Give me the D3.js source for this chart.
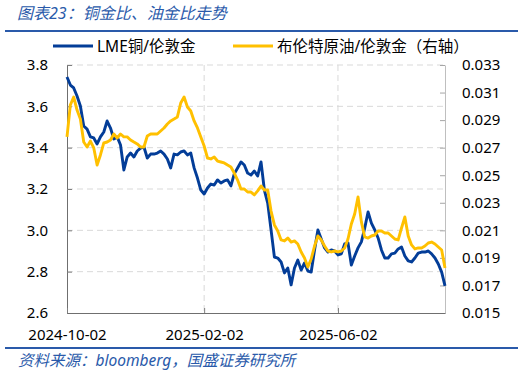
<!DOCTYPE html>
<meta charset="utf-8">
<title>铜金比、油金比走势</title>
<style>
  body { margin: 0; background: #fff; }
  text { font-family: "Noto Sans", "Noto Sans CJK SC", sans-serif; }
</style>
<body>
<script src="https://cdn.jsdelivr.net/npm/d3@7"></script>
<script>

// one sample every 3 calendar days from the start date
var startDate = "2024-10-02";
var stepDays = 3;

// LME copper / LBMA gold (left axis)
var copperGold = [
  3.742, 3.703, 3.689, 3.650, 3.602, 3.505, 3.490, 3.452, 3.447, 3.418,
  3.452, 3.476, 3.529, 3.495, 3.442, 3.452, 3.413, 3.292, 3.355, 3.374,
  3.355, 3.384, 3.398, 3.403, 3.350, 3.369, 3.369, 3.374, 3.384, 3.369,
  3.345, 3.302, 3.369, 3.365, 3.379, 3.384, 3.365, 3.374, 3.302, 3.253,
  3.195, 3.176, 3.205, 3.224, 3.219, 3.244, 3.229, 3.239, 3.244, 3.215,
  3.273, 3.302, 3.331, 3.316, 3.277, 3.268, 3.287, 3.263, 3.331, 3.195,
  3.132, 3.002, 2.871, 2.866, 2.847, 2.794, 2.818, 2.736, 2.818, 2.856,
  2.808, 2.842, 2.803, 2.798, 2.905, 3.002, 2.958, 2.915, 2.895, 2.905,
  2.900, 2.881, 2.886, 2.934, 2.939, 2.832, 2.876, 2.915, 2.944, 3.011,
  3.089, 3.035, 3.002, 2.963, 2.905, 2.866, 2.866, 2.886, 2.890, 2.910,
  2.919, 2.876, 2.852, 2.847, 2.866, 2.890, 2.895, 2.895, 2.900, 2.886,
  2.866, 2.837, 2.798, 2.731
];

// Brent crude / LBMA gold (right axis)
var oilGold = [
  0.02778, 0.03010, 0.03068, 0.02973, 0.02908, 0.02741, 0.02705, 0.02748, 0.02698, 0.02574,
  0.02647, 0.02734, 0.02741, 0.02756, 0.02799, 0.02770, 0.02799, 0.02778, 0.02778, 0.02756,
  0.02741, 0.02727, 0.02705, 0.02705, 0.02785, 0.02799, 0.02799, 0.02799, 0.02821, 0.02843,
  0.02872, 0.02894, 0.02908, 0.02923, 0.03024, 0.03068, 0.02995, 0.02966, 0.02894, 0.02843,
  0.02778, 0.02712, 0.02625, 0.02618, 0.02632, 0.02603, 0.02596, 0.02589, 0.02574, 0.02560,
  0.02516, 0.02465, 0.02400, 0.02400, 0.02378, 0.02378, 0.02357, 0.02386, 0.02422, 0.02393,
  0.02393, 0.02240, 0.02139, 0.02095, 0.02030, 0.02023, 0.02044, 0.02015, 0.02023, 0.02001,
  0.01943, 0.01899, 0.01834, 0.01892, 0.01986, 0.02059, 0.02030, 0.01986, 0.01950, 0.01943,
  0.01950, 0.01943, 0.01950, 0.01972, 0.02037, 0.02146, 0.02219, 0.02342, 0.02161, 0.02052,
  0.02044, 0.02059, 0.02066, 0.02095, 0.02095, 0.02081, 0.02081, 0.02059, 0.02037, 0.02030,
  0.02117, 0.02197, 0.02059, 0.01994, 0.01965, 0.01972, 0.01972, 0.01986, 0.02008, 0.02015,
  0.02001, 0.01979, 0.01957, 0.01827
];

var leftTicks = [2.6, 2.8, 3.0, 3.2, 3.4, 3.6, 3.8];
var rightTicks = [0.015, 0.017, 0.019, 0.021, 0.023, 0.025, 0.027, 0.029, 0.031, 0.033];
var xTickLabels = ["2024-10-02", "2025-02-02", "2025-06-02"];
var seriesNames = ["LME铜/伦敦金", "布伦特原油/伦敦金（右轴）"];

var blue = "#033D98";
var yellow = "#FFC000";
var titleBlue = "#2A5AAA";

var width = 525;
var height = 375;
var plotLeft = 67, plotRight = 445, plotTop = 65, plotBottom = 313;

var parse = d3.utcParse("%Y-%m-%d");
var t0 = parse(startDate);
var dates = copperGold.map(function(d, i) { return d3.utcDay.offset(t0, i * stepDays); });

var x = d3.scaleUtc()
    .domain([t0, dates[dates.length - 1]])
    .range([plotLeft, plotRight]);
var yL = d3.scaleLinear().domain([2.6, 3.8]).range([plotBottom, plotTop]);
var yR = d3.scaleLinear().domain([0.015, 0.033]).range([plotBottom, plotTop]);

var svg = d3.select("body")
      .append("svg")
      .attr("width", width)
      .attr("height", height);

// title and rules
svg.append("text")
  .attr("x", 17)
  .attr("y", 19)
  .style("font-size", "16px")
  .style("font-style", "italic")
  .style("fill", titleBlue)
  .text("图表23：铜金比、油金比走势");

svg.append("line")
  .attr("x1", 5).attr("x2", 518)
  .attr("y1", 31).attr("y2", 31)
  .style("stroke", titleBlue)
  .style("stroke-width", 2);

svg.append("line")
  .attr("x1", 5).attr("x2", 518)
  .attr("y1", 348).attr("y2", 348)
  .style("stroke", titleBlue)
  .style("stroke-width", 2);

svg.append("text")
  .attr("x", 18)
  .attr("y", 366)
  .style("font-size", "15.5px")
  .style("font-style", "italic")
  .style("fill", titleBlue)
  .text("资料来源：bloomberg，国盛证券研究所");

// legend
var legend = [
  { name: seriesNames[0], color: blue, x: 53 },
  { name: seriesNames[1], color: yellow, x: 233 }
];
legend.forEach(function(l) {
  svg.append("line")
    .attr("x1", l.x).attr("x2", l.x + 40)
    .attr("y1", 46).attr("y2", 46)
    .style("stroke", l.color)
    .style("stroke-width", 3);
  svg.append("text")
    .attr("x", l.x + 44)
    .attr("y", 51.5)
    .style("font-size", "15.5px")
    .style("fill", "#000")
    .text(l.name);
});

// grid
svg.append("g")
  .selectAll("line")
  .data(leftTicks.slice(1))
  .enter().append("line")
  .attr("x1", plotLeft).attr("x2", plotRight)
  .attr("y1", function(d) { return yL(d); })
  .attr("y2", function(d) { return yL(d); })
  .style("stroke", "#D9D9D9")
  .style("stroke-width", 1)
  .style("stroke-dasharray", "6,4");

svg.append("g")
  .selectAll("line")
  .data(xTickLabels.slice(1))
  .enter().append("line")
  .attr("x1", function(d) { return x(parse(d)); })
  .attr("x2", function(d) { return x(parse(d)); })
  .attr("y1", plotTop).attr("y2", plotBottom)
  .style("stroke", "#D9D9D9")
  .style("stroke-width", 1)
  .style("stroke-dasharray", "6,4");

// axes
var axisL = svg.append("g")
  .attr("transform", "translate(" + plotLeft + ",0)")
  .call(d3.axisLeft(yL).tickValues(leftTicks).tickSizeInner(-5).tickSizeOuter(0)
        .tickPadding(19).tickFormat(d3.format(".1f")));

var axisR = svg.append("g")
  .attr("transform", "translate(" + plotRight + ",0)")
  .call(d3.axisRight(yR).tickValues(rightTicks).tickSizeInner(-5).tickSizeOuter(0)
        .tickPadding(17).tickFormat(d3.format(".3f")));

var axisB = svg.append("g")
  .attr("transform", "translate(0," + plotBottom + ")")
  .call(d3.axisBottom(x).tickValues(xTickLabels.map(parse)).tickSizeInner(-5).tickSizeOuter(0)
        .tickPadding(16).tickFormat(d3.utcFormat("%Y-%m-%d")));

[axisL, axisR, axisB].forEach(function(a) {
  a.selectAll("text").style("font-size", "15px").style("fill", "#000")
    .style("font-family", "'Noto Sans', sans-serif");
  a.select(".domain").style("stroke", "#6F6F6F");
  a.selectAll(".tick line").style("stroke", "#7F7F7F");
});
axisR.select(".domain").style("stroke", "#BFBFBF");
axisR.selectAll(".tick line").style("stroke", "#A6A6A6");

// lines
var lineL = d3.line()
  .x(function(d, i) { return x(dates[i]); })
  .y(function(d) { return yL(d); });
var lineR = d3.line()
  .x(function(d, i) { return x(dates[i]); })
  .y(function(d) { return yR(d); });

svg.append("path")
  .datum(copperGold)
  .attr("d", lineL)
  .style("fill", "none")
  .style("stroke", blue)
  .style("stroke-width", 2.9)
  .style("stroke-linejoin", "round");

svg.append("path")
  .datum(oilGold)
  .attr("d", lineR)
  .style("fill", "none")
  .style("stroke", yellow)
  .style("stroke-width", 2.9)
  .style("stroke-linejoin", "round");

</script>
